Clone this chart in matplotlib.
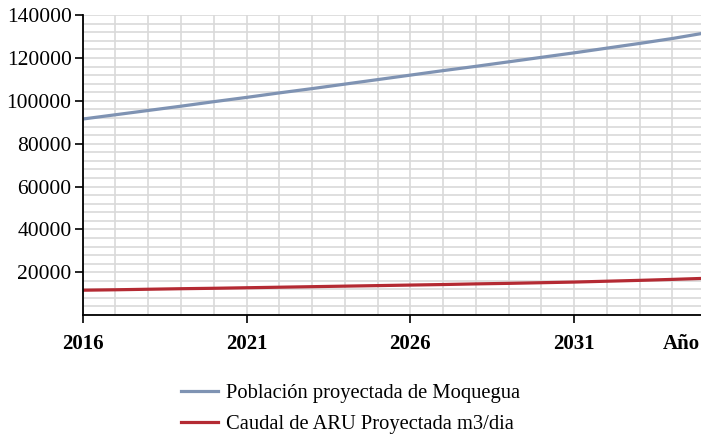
import matplotlib
matplotlib.use('Agg')
import matplotlib.pyplot as plt
from matplotlib.ticker import MultipleLocator

plt.rcParams['font.family'] = ['Liberation Serif', 'DejaVu Serif']

# data
years = list(range(2016, 2036))
poblacion = [91500, 93500, 95500, 97500, 99600, 101600, 103700, 105700, 107800, 109900,
             112000, 114100, 116100, 118200, 120300, 122400, 124600, 126800, 129100, 131700]
caudal = [11600, 11800, 12050, 12300, 12500, 12750, 13000, 13250, 13500, 13750,
          14000, 14250, 14550, 14800, 15100, 15400, 15800, 16200, 16650, 17150]
xtick_years = [2016, 2021, 2026, 2031]
ytick_vals = list(range(20000, 140001, 20000))

label_pob = "Población proyectada de Moquegua"
label_cau = "Caudal de ARU Proyectada m3/dia"

fig = plt.figure(figsize=(7.01, 4.45), dpi=100)
ax = fig.add_axes([0.118, 0.292, 0.882, 0.674])

ax.plot(years, poblacion, color='#7f93b3', lw=2.3, label=label_pob, zorder=3)
ax.plot(years, caudal, color='#b42a33', lw=2.3, label=label_cau, zorder=3)

ax.set_xlim(2016, 2034.87)
ax.set_ylim(0, 140000)

ax.set_xticks(xtick_years)
ax.set_yticks(ytick_vals)
ax.xaxis.set_minor_locator(MultipleLocator(1))
ax.yaxis.set_minor_locator(MultipleLocator(4000))
ax.tick_params(axis='x', which='minor', length=0)
ax.tick_params(axis='y', which='minor', length=0)
ax.tick_params(axis='x', which='major', length=6, width=1.2, pad=7.5, labelsize=15)
ax.tick_params(axis='y', which='major', length=6, width=1.2, pad=2, labelsize=15.5)
for lab in ax.get_xticklabels():
    lab.set_fontweight('bold')

ax.grid(True, which='both', color='#d9d9d9', lw=1.2, zorder=0)
ax.set_axisbelow(True)

for s in ['top', 'right']:
    ax.spines[s].set_visible(False)
for s in ['left', 'bottom']:
    ax.spines[s].set_linewidth(1.3)
    ax.spines[s].set_zorder(4)

ax.annotate("Año", xy=(1, 0), xycoords='axes fraction', xytext=(-1, -13.5),
            textcoords='offset points', ha='right', va='top',
            fontsize=15, fontweight='bold')

fig.legend(loc='center', bbox_to_anchor=(0.5, 0.081), frameon=False,
           fontsize=14.8, handlelength=1.8, handletextpad=0.35, labelspacing=0.55)

fig.savefig('out.png', dpi=100)
